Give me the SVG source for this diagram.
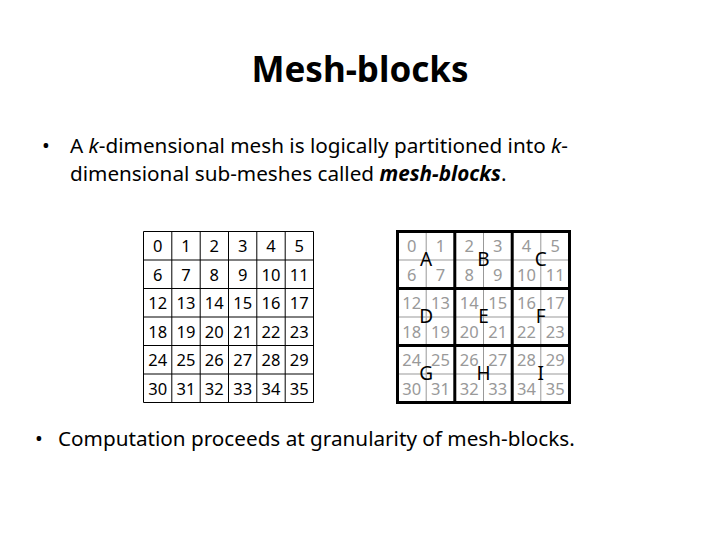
<svg xmlns="http://www.w3.org/2000/svg" width="720" height="540" viewBox="0 0 720 540">
<style>
text{font-family:"Noto Sans","Open Sans",sans-serif}
.t{font-size:35px;font-weight:bold;text-anchor:middle;fill:#000}
.b{font-size:20.7px;fill:#000}
.n{font-size:16.5px;text-anchor:middle;fill:#000}
.g{font-size:16.5px;text-anchor:middle;fill:#999}
.L{font-size:19px;text-anchor:middle;fill:#000}
.thin{stroke:#000;stroke-width:1;fill:none}
.gr{stroke:#999;stroke-width:1;fill:none}
.thick{stroke:#000;stroke-width:3;fill:none}
</style>
<rect width="720" height="540" fill="#fff"/>
<text class="t" x="360" y="82">Mesh-blocks</text>
<text class="b" x="42" y="153">•</text>
<text class="b" x="70" y="153">A <tspan font-style="italic">k</tspan>-dimensional mesh is logically partitioned into <tspan font-style="italic">k</tspan>-</text>
<text class="b" x="70" y="181">dimensional sub-meshes called <tspan font-style="italic" font-weight="bold">mesh-blocks</tspan>.</text>
<text class="b" x="35" y="446">•</text>
<text class="b" x="58" y="446">Computation proceeds at granularity of mesh-blocks.</text>
<g id="left-grid">
<path class="thin" d="M143.5 231.5H313.5V402.5H143.5Z M171.8 231.5V402.5 M200.2 231.5V402.5 M228.5 231.5V402.5 M256.8 231.5V402.5 M285.2 231.5V402.5 M143.5 260H313.5 M143.5 288.5H313.5 M143.5 317H313.5 M143.5 345.5H313.5 M143.5 374H313.5"/>
<g class="n">
<text x="157.7" y="252">0</text><text x="186" y="252">1</text><text x="214.3" y="252">2</text><text x="242.7" y="252">3</text><text x="271" y="252">4</text><text x="299.3" y="252">5</text>
<text x="157.7" y="280.5">6</text><text x="186" y="280.5">7</text><text x="214.3" y="280.5">8</text><text x="242.7" y="280.5">9</text><text x="271" y="280.5">10</text><text x="299.3" y="280.5">11</text>
<text x="157.7" y="309">12</text><text x="186" y="309">13</text><text x="214.3" y="309">14</text><text x="242.7" y="309">15</text><text x="271" y="309">16</text><text x="299.3" y="309">17</text>
<text x="157.7" y="337.5">18</text><text x="186" y="337.5">19</text><text x="214.3" y="337.5">20</text><text x="242.7" y="337.5">21</text><text x="271" y="337.5">22</text><text x="299.3" y="337.5">23</text>
<text x="157.7" y="366">24</text><text x="186" y="366">25</text><text x="214.3" y="366">26</text><text x="242.7" y="366">27</text><text x="271" y="366">28</text><text x="299.3" y="366">29</text>
<text x="157.7" y="394.5">30</text><text x="186" y="394.5">31</text><text x="214.3" y="394.5">32</text><text x="242.7" y="394.5">33</text><text x="271" y="394.5">34</text><text x="299.3" y="394.5">35</text>
</g>
</g>
<g id="right-grid">
<path class="gr" d="M426.2 231.5V402.5 M483.5 231.5V402.5 M540.8 231.5V402.5 M397.5 260H569.5 M397.5 317H569.5 M397.5 374H569.5"/>
<g class="g">
<text x="411.8" y="252">0</text><text x="440.5" y="252">1</text><text x="469.2" y="252">2</text><text x="497.8" y="252">3</text><text x="526.5" y="252">4</text><text x="555.2" y="252">5</text>
<text x="411.8" y="280.5">6</text><text x="440.5" y="280.5">7</text><text x="469.2" y="280.5">8</text><text x="497.8" y="280.5">9</text><text x="526.5" y="280.5">10</text><text x="555.2" y="280.5">11</text>
<text x="411.8" y="309">12</text><text x="440.5" y="309">13</text><text x="469.2" y="309">14</text><text x="497.8" y="309">15</text><text x="526.5" y="309">16</text><text x="555.2" y="309">17</text>
<text x="411.8" y="337.5">18</text><text x="440.5" y="337.5">19</text><text x="469.2" y="337.5">20</text><text x="497.8" y="337.5">21</text><text x="526.5" y="337.5">22</text><text x="555.2" y="337.5">23</text>
<text x="411.8" y="366">24</text><text x="440.5" y="366">25</text><text x="469.2" y="366">26</text><text x="497.8" y="366">27</text><text x="526.5" y="366">28</text><text x="555.2" y="366">29</text>
<text x="411.8" y="394.5">30</text><text x="440.5" y="394.5">31</text><text x="469.2" y="394.5">32</text><text x="497.8" y="394.5">33</text><text x="526.5" y="394.5">34</text><text x="555.2" y="394.5">35</text>
</g>
<path class="thick" d="M397.5 231.5H569.5V402.5H397.5Z M454.8 231.5V402.5 M512.2 231.5V402.5 M397.5 288.5H569.5 M397.5 345.5H569.5"/>
<g class="L">
<text x="426.2" y="266">A</text><text x="483.5" y="266">B</text><text x="540.8" y="266">C</text>
<text x="426.2" y="323">D</text><text x="483.5" y="323">E</text><text x="540.8" y="323">F</text>
<text x="426.2" y="380">G</text><text x="483.5" y="380">H</text><text x="540.8" y="380">I</text>
</g>
</g>
</svg>
